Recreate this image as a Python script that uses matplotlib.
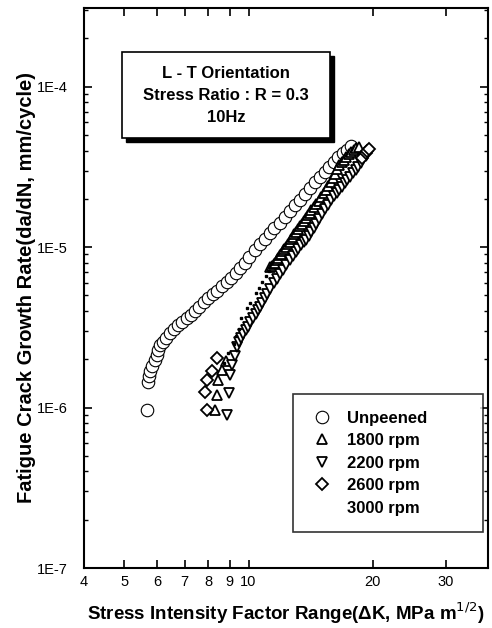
import matplotlib
matplotlib.use("Agg")
import matplotlib.pyplot as plt
from matplotlib.patches import Rectangle
from matplotlib.ticker import FixedLocator, FixedFormatter, LogLocator, NullFormatter

plt.rcParams['font.family'] = ['Liberation Sans', 'DejaVu Sans']

# Unpeened (open circles)
dk_unpeened = [5.67, 5.70, 5.74, 5.78, 5.85, 5.93, 6.00, 6.05, 6.12, 6.22, 6.32, 6.45,
               6.60, 6.75, 6.92, 7.08, 7.25, 7.42, 7.60, 7.80, 8.00, 8.20, 8.40, 8.62,
               8.85, 9.05, 9.30, 9.55, 9.80, 10.05, 10.35, 10.65, 10.95, 11.25, 11.55,
               11.90, 12.25, 12.60, 12.95, 13.30, 13.70, 14.10, 14.50, 14.90, 15.30,
               15.70, 16.10, 16.50, 16.90, 17.30, 17.70]
dadn_unpeened = [0.97e-6, 1.45e-6, 1.58e-6, 1.70e-6, 1.82e-6, 1.98e-6, 2.12e-6, 2.30e-6,
                 2.45e-6, 2.58e-6, 2.72e-6, 2.90e-6, 3.08e-6, 3.25e-6, 3.42e-6, 3.62e-6,
                 3.80e-6, 4.02e-6, 4.25e-6, 4.55e-6, 4.85e-6, 5.10e-6, 5.35e-6, 5.70e-6,
                 6.05e-6, 6.40e-6, 6.85e-6, 7.40e-6, 8.00e-6, 8.70e-6, 9.60e-6, 1.04e-5,
                 1.12e-5, 1.22e-5, 1.32e-5, 1.42e-5, 1.55e-5, 1.68e-5, 1.82e-5, 1.98e-5,
                 2.15e-5, 2.35e-5, 2.55e-5, 2.75e-5, 2.95e-5, 3.18e-5, 3.40e-5, 3.62e-5,
                 3.85e-5, 4.05e-5, 4.25e-5]

# 1800 rpm (up triangles)
dk_1800 = [8.29, 8.37, 8.44, 8.62, 8.80,
           11.3, 11.4, 11.5, 11.6, 11.7, 11.8, 11.9, 12.0, 12.1, 12.2, 12.3, 12.45, 12.6,
           12.7, 12.8, 12.9, 13.0, 13.15, 13.3, 13.45, 13.6, 13.75, 13.9, 14.05, 14.2,
           14.4, 14.6, 14.8, 15.0, 15.2, 15.4, 15.6, 15.8, 16.0, 16.2, 16.4, 16.6, 16.8,
           17.0, 17.25, 17.5, 17.75, 18.0, 18.25, 18.5]
dadn_1800 = [9.6e-7, 1.20e-6, 1.48e-6, 1.72e-6, 1.95e-6,
             7.5e-6, 7.6e-6, 7.9e-6, 8.0e-6, 8.3e-6, 8.6e-6, 8.9e-6, 9.1e-6, 9.4e-6,
             9.8e-6, 1.0e-5, 1.04e-5, 1.08e-5, 1.12e-5, 1.15e-5, 1.20e-5, 1.25e-5,
             1.29e-5, 1.35e-5, 1.40e-5, 1.46e-5, 1.52e-5, 1.58e-5, 1.63e-5, 1.70e-5,
             1.77e-5, 1.86e-5, 1.95e-5, 2.05e-5, 2.16e-5, 2.28e-5, 2.42e-5, 2.55e-5,
             2.70e-5, 2.85e-5, 3.05e-5, 3.25e-5, 3.38e-5, 3.50e-5, 3.64e-5, 3.78e-5,
             3.90e-5, 4.02e-5, 4.12e-5, 4.20e-5]

# 2200 rpm (down triangles)
dk_2200 = [8.85, 8.98, 9.01, 9.10, 9.25, 9.40, 9.50, 9.60, 9.72, 9.85, 9.97, 10.1, 10.25,
           10.4, 10.52, 10.65, 10.8, 10.95, 11.1, 11.3, 11.5, 11.7, 11.9, 12.1, 12.35,
           12.6, 12.8, 13.0, 13.2, 13.4, 13.6, 13.8, 14.0, 14.2, 14.4, 14.6, 14.85, 15.1,
           15.35, 15.6, 15.85, 16.1, 16.35, 16.6, 16.85, 17.1, 17.35, 17.6, 17.9, 18.2,
           18.45, 18.7, 18.95, 19.2]
dadn_2200 = [9.0e-7, 1.23e-6, 1.59e-6, 1.85e-6, 2.10e-6, 2.40e-6, 2.55e-6, 2.72e-6,
             2.88e-6, 3.05e-6, 3.20e-6, 3.40e-6, 3.62e-6, 3.85e-6, 4.05e-6, 4.25e-6,
             4.50e-6, 4.80e-6, 5.10e-6, 5.45e-6, 5.95e-6, 6.35e-6, 6.80e-6, 7.25e-6,
             7.75e-6, 8.30e-6, 8.80e-6, 9.30e-6, 9.80e-6, 1.03e-5, 1.07e-5, 1.11e-5,
             1.18e-5, 1.25e-5, 1.32e-5, 1.40e-5, 1.50e-5, 1.62e-5, 1.73e-5, 1.84e-5,
             1.96e-5, 2.07e-5, 2.16e-5, 2.26e-5, 2.38e-5, 2.50e-5, 2.62e-5, 2.75e-5,
             2.88e-5, 3.02e-5, 3.18e-5, 3.35e-5, 3.52e-5, 3.70e-5]

# 2600 rpm (diamonds)
dk_2600 = [7.92, 7.84, 7.92, 8.15, 8.40, 18.8, 19.2, 19.4, 19.6]
dadn_2600 = [9.6e-7, 1.25e-6, 1.48e-6, 1.70e-6, 2.05e-6, 3.6e-5, 3.85e-5, 3.95e-5, 4.10e-5]

# 3000 rpm (small dots)
dk_3000 = [8.7, 8.9, 9.2, 9.3, 9.5, 9.6, 9.9, 10.1, 10.4, 10.6, 10.8, 11.0, 11.2]
dadn_3000 = [1.9e-6, 2.2e-6, 2.5e-6, 2.8e-6, 3.1e-6, 3.6e-6, 4.2e-6, 4.5e-6, 5.2e-6,
             5.6e-6, 6.1e-6, 6.6e-6, 7.1e-6]

x_ticks = [4, 5, 6, 7, 8, 9, 10, 20, 30]
x_tick_labels = ['4', '5', '6', '7', '8', '9', '10', '20', '30']
y_ticks = [1e-7, 1e-6, 1e-5, 1e-4]
y_tick_labels = ['1E-7', '1E-6', '1E-5', '1E-4']

fig = plt.figure(figsize=(4.92, 6.28), dpi=100)
ax = fig.add_axes([0.171, 0.0955, 0.821, 0.892])

ax.plot(dk_unpeened, dadn_unpeened, 'o', ms=9, mfc='white', mec='black', mew=0.8,
        ls='none', label='Unpeened')
ax.plot(dk_1800, dadn_1800, '^', ms=6.5, mfc='white', mec='black', mew=1.3,
        ls='none', label='1800 rpm')
ax.plot(dk_2200, dadn_2200, 'v', ms=6.5, mfc='white', mec='black', mew=1.3,
        ls='none', label='2200 rpm')
ax.plot(dk_2600, dadn_2600, 'D', ms=6, mfc='white', mec='black', mew=1.3,
        ls='none', label='2600 rpm')
ax.plot(dk_3000, dadn_3000, 's', ms=1.5, mfc='black', mec='black',
        ls='none', label='3000 rpm')

ax.set_xscale('log')
ax.set_yscale('log')
ax.set_xlim(4, 38)
ax.set_ylim(1e-7, 3.1e-4)

ax.xaxis.set_major_locator(FixedLocator(x_ticks))
ax.xaxis.set_major_formatter(FixedFormatter(x_tick_labels))
ax.xaxis.set_minor_locator(FixedLocator([]))
ax.yaxis.set_major_locator(FixedLocator(y_ticks))
ax.yaxis.set_major_formatter(FixedFormatter(y_tick_labels))
ax.yaxis.set_minor_locator(LogLocator(base=10, subs=range(2, 10)))
ax.yaxis.set_minor_formatter(NullFormatter())

ax.tick_params(which='major', direction='in', length=6, width=1.2, top=True, right=True,
               labelsize=10.5, pad=5)
ax.tick_params(axis='y', which='major', pad=12)
ax.tick_params(which='minor', direction='in', length=3, width=1.0, top=True, right=True)
for s in ax.spines.values():
    s.set_linewidth(1.5)

ax.set_ylabel('Fatigue Crack Growth Rate(da/dN, mm/cycle)', fontsize=14.5,
              fontweight='bold')
ax.yaxis.set_label_coords(-0.12, 0.5)
ax.set_xlabel('Stress Intensity Factor Range(ΔK, MPa m$^{1/2}$)', fontsize=13.5,
              fontweight='bold')
ax.xaxis.set_label_coords(0.5, -0.058)

# condition box with drop shadow
ax.add_patch(Rectangle((0.104, 0.761), 0.515, 0.153, transform=ax.transAxes,
                       facecolor='black', edgecolor='black', zorder=4))
ax.add_patch(Rectangle((0.094, 0.768), 0.515, 0.153, transform=ax.transAxes,
                       facecolor='white', edgecolor='black', lw=1.2, zorder=5))
ax.text(0.351, 0.882, 'L - T Orientation', transform=ax.transAxes, ha='center',
        va='center', fontsize=12, fontweight='bold', zorder=6)
ax.text(0.351, 0.843, 'Stress Ratio : R = 0.3', transform=ax.transAxes, ha='center',
        va='center', fontsize=12, fontweight='bold', zorder=6)
ax.text(0.351, 0.804, '10Hz', transform=ax.transAxes, ha='center',
        va='center', fontsize=12, fontweight='bold', zorder=6)

leg = ax.legend(loc='lower left', bbox_to_anchor=(0.517, 0.064, 0.47, 0.25),
                mode='expand', frameon=True, fancybox=False, edgecolor='black',
                borderaxespad=0, borderpad=1.0, handlelength=1.5, handletextpad=0.75,
                prop={'weight': 'bold', 'size': 12}, labelspacing=0.45)
leg.get_frame().set_linewidth(1.2)
leg.legend_handles[4].set_visible(False)

fig.savefig('out.png', dpi=100)
